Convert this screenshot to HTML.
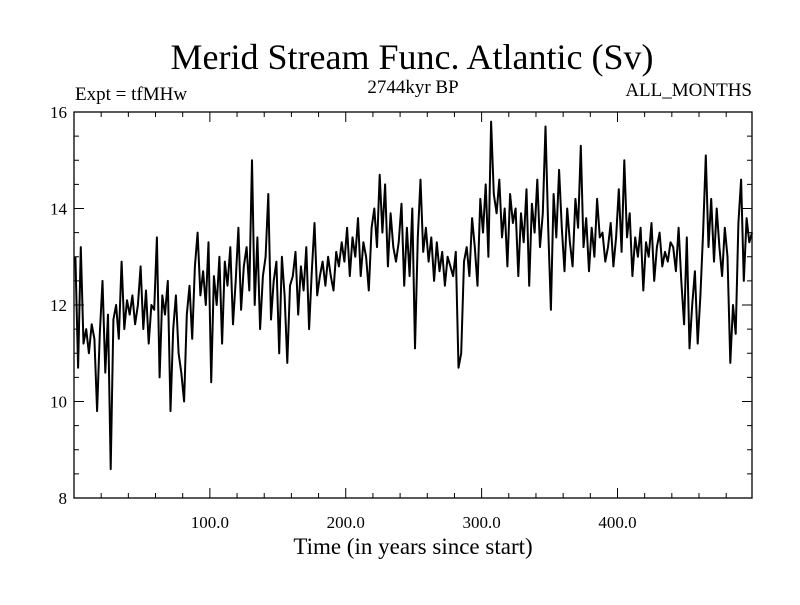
<!DOCTYPE html>
<html><head><meta charset="utf-8"><style>
html,body{margin:0;padding:0;background:#fff;}
svg text{font-family:"Liberation Serif",serif;fill:#000;}
</style></head><body>
<svg id="chart" width="800" height="600" xmlns="http://www.w3.org/2000/svg">
<text x="412" y="69" font-size="36" text-anchor="middle">Merid Stream Func. Atlantic (Sv)</text>
<text x="75" y="100" font-size="19">Expt = tfMHw</text>
<text x="413" y="93" font-size="19" text-anchor="middle">2744kyr BP</text>
<text x="752" y="96" font-size="19" text-anchor="end">ALL_MONTHS</text>
<text x="413" y="554" font-size="23" text-anchor="middle">Time (in years since start)</text>
<g id="axes"></g>
<g id="series"></g>
</svg>
<script>
const yTicks=[8,10,12,14,16];
const xTicks=[100,200,300,400];
const xTickLabels=["100.0","200.0","300.0","400.0"];
const values=[
13.0,10.7,13.2,11.2,11.5,11.0,11.6,11.3,9.8,11.4,
12.5,10.6,11.8,8.6,11.7,12.0,11.3,12.9,11.5,12.1,
11.8,12.2,11.6,12.0,12.8,11.5,12.3,11.2,12.0,11.9,
13.4,10.5,12.2,11.8,12.5,9.8,11.5,12.2,11.0,10.6,
10.0,11.8,12.4,11.3,12.8,13.5,12.2,12.7,12.0,13.3,
10.4,12.6,12.0,13.0,11.2,12.9,12.4,13.2,11.6,12.5,
13.6,11.9,12.8,13.2,12.3,15.0,12.0,13.4,11.5,12.6,
13.0,14.3,11.7,12.5,12.9,11.0,13.0,12.2,10.8,12.4,
12.6,13.1,11.8,12.8,12.3,13.2,11.5,12.7,13.7,12.2,
12.6,12.9,12.4,13.0,12.6,12.3,13.1,12.8,13.3,12.9,
13.6,12.6,13.4,13.0,13.8,12.6,13.3,13.0,12.3,13.6,
14.0,13.2,14.7,13.5,14.5,12.8,13.9,13.2,12.9,13.3,
14.1,12.4,13.6,12.6,14.0,11.1,13.4,14.6,13.1,13.6,
12.9,13.4,12.5,13.3,12.7,13.1,12.4,13.0,12.8,12.6,
13.1,10.7,11.0,12.9,13.2,12.6,13.8,13.2,12.4,14.2,
13.5,14.5,13.0,15.8,14.3,13.9,14.6,13.4,14.0,12.8,
14.3,13.7,14.0,12.6,13.9,13.3,14.4,12.4,14.1,13.5,
14.6,13.2,13.9,15.7,13.6,11.9,14.3,13.4,14.8,13.6,
12.7,14.0,13.3,12.8,14.2,13.6,15.3,13.2,13.8,12.7,
13.6,13.0,14.2,13.4,13.5,12.9,13.2,13.7,12.8,13.4,
14.4,13.1,15.0,13.4,13.9,12.6,13.4,13.0,13.6,12.3,
13.3,13.0,13.7,12.5,13.2,13.5,12.8,13.1,12.9,13.3,
13.2,12.7,13.6,12.5,11.6,13.4,11.1,12.0,12.7,11.2,
12.2,13.5,15.1,13.2,14.2,12.9,14.0,13.2,12.6,13.6,
13.0,10.8,12.0,11.4,13.7,14.6,12.5,13.8,13.3,13.5];
const years=values.map((v,i)=>1+2*i);

const L=74,R=752,T=112,B=498,X0=0,X1=499,Y0=8,Y1=16;
const sx=v=>L+(v-X0)/(X1-X0)*(R-L);
const sy=v=>B-(v-Y0)/(Y1-Y0)*(B-T);
const NS="http://www.w3.org/2000/svg";
const axes=document.getElementById('axes');
function mk(tag,attrs,parent){const e=document.createElementNS(NS,tag);for(const k in attrs)e.setAttribute(k,attrs[k]);parent.appendChild(e);return e;}

const frame=mk('rect',{x:L,y:T,width:R-L,height:B-T,fill:'none',stroke:'#000','stroke-width':1.3},axes);



for(let v=Y0;v<=Y1+1e-9;v+=0.5){
  const major=Math.abs(v-Math.round(v/2)*2)<1e-9;
  const len=major?10:5,y=sy(v);
  const t1=mk('line',{x1:L,y1:y,x2:L+len,y2:y,stroke:'#000'},axes);
  
  
  const t2=mk('line',{x1:R,y1:y,x2:R-len,y2:y,stroke:'#000'},axes);
  
  
}
yTicks.forEach(v=>{
  const t=mk('text',{x:67,y:sy(v)+6,'font-size':17,'text-anchor':'end'},axes);
  t.textContent=String(v);
  
  
});
for(let v=20;v<X1;v+=20){
  const major=v%100===0,len=major?10:5,x=sx(v);
  const t1=mk('line',{x1:x,y1:B,x2:x,y2:B-len,stroke:'#000'},axes);
  
  
  const t2=mk('line',{x1:x,y1:T,x2:x,y2:T+len,stroke:'#000'},axes);
  
  
}
xTicks.forEach((v,i)=>{
  const t=mk('text',{x:sx(v),y:528,'font-size':17,'text-anchor':'middle'},axes);
  t.textContent=xTickLabels[i];
  
  
});
const d=values.map((v,i)=>(i?'L':'M')+sx(years[i]).toFixed(1)+' '+sy(v).toFixed(1)).join(' ');
const line=mk('path',{d:d,fill:'none',stroke:'#000','stroke-width':2,'stroke-linejoin':'round'},document.getElementById('series'));


</script>
</body></html>
